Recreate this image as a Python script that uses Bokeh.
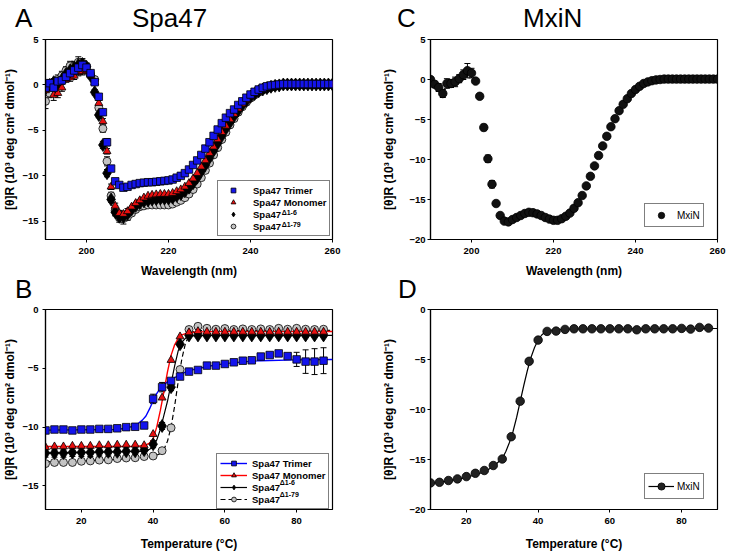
from bokeh.plotting import figure
from bokeh.models import (Range1d, FixedTicker, Label, Legend, LegendItem,
                          Whisker, TeeHead, ColumnDataSource, Div)
from bokeh.layouts import column, row
from bokeh.core.properties import value
from bokeh.embed import file_html
from bokeh.resources import INLINE

FONT = "Liberation Sans"

# ---------------- Panel A : Spa47 far-UV CD ----------------
wavelength = list(range(190, 261))
a_trimer = [-0.3, 0.2, -0.3, 0.4, 0.5, 0.9, 1.3, 1.6, 1.9, 2.2, 1.9, 1.3, 0.3, -1.3, -3.0,
            -6.3, -9.2, -10.6, -11.0, -11.3, -11.2, -11.0, -10.9, -10.8, -10.75, -10.7, -10.7,
            -10.65, -10.6, -10.55, -10.5, -10.4, -10.2, -10.0, -9.7, -9.3, -8.8, -8.3, -7.7,
            -7.0, -6.3, -5.6, -4.9, -4.2, -3.6, -3.1, -2.7, -2.2, -1.8, -1.4, -1.05, -0.75,
            -0.5, -0.3, -0.15, -0.05, 0.0, 0.05, 0.1, 0.1, 0.1, 0.1, 0.1, 0.1, 0.1, 0.1, 0.1,
            0.1, 0.1, 0.1, 0.1]
a_monomer = [-0.6, -0.2, -1.1, -0.9, -0.3, 0.6, 0.8, 1.0, 1.4, 1.5, 1.6, 1.1, 0.3, -2.0, -4.0,
             -7.3, -11.2, -13.3, -14.1, -14.2, -13.9, -13.4, -13.0, -12.7, -12.4, -12.2, -12.1,
             -12.05, -12.0, -12.0, -12.0, -11.9, -11.7, -11.5, -11.2, -10.8, -10.3, -9.7, -9.0,
             -8.3, -7.5, -6.8, -6.0, -5.2, -4.5, -3.8, -3.2, -2.6, -2.1, -1.65, -1.25, -0.9,
             -0.65, -0.45, -0.3, -0.2, -0.1, -0.05, 0.0, 0.0, 0.0, 0.0, 0.0, 0.0, 0.0, 0.0, 0.0,
             0.0, 0.0, 0.0, 0.0]
a_d16 = [-0.4, 0.0, 0.3, 0.1, 0.6, 1.2, 1.6, 1.9, 2.2, 2.3, 2.0, 1.0, -0.8, -3.3, -6.6,
         -9.7, -12.6, -14.0, -14.5, -14.5, -14.2, -13.7, -13.3, -13.0, -12.8, -12.7, -12.6,
         -12.55, -12.5, -12.5, -12.5, -12.4, -12.2, -12.0, -11.7, -11.3, -10.8, -10.2, -9.5,
         -8.8, -8.0, -7.2, -6.4, -5.6, -4.8, -4.1, -3.4, -2.8, -2.2, -1.75, -1.3, -1.0,
         -0.7, -0.5, -0.35, -0.2, -0.1, -0.05, 0.05, 0.05, 0.05, 0.05, 0.05, 0.05, 0.05, 0.05,
         0.05, 0.05, 0.05, 0.05, 0.05]
a_d179 = [-1.8, -0.9, -0.3, 0.6, 1.0, 1.6, 2.1, 2.1, 2.5, 2.4, 2.0, 1.2, 0.6, -2.5, -4.8,
          -8.4, -12.2, -13.8, -14.6, -14.7, -14.5, -14.1, -13.7, -13.4, -13.3, -13.2, -13.2,
          -13.2, -13.2, -13.2, -13.2, -13.1, -12.9, -12.7, -12.4, -12.0, -11.5, -10.9, -10.2,
          -9.4, -8.6, -7.7, -6.9, -6.0, -5.2, -4.4, -3.7, -3.0, -2.4, -1.9, -1.45, -1.1,
          -0.8, -0.55, -0.4, -0.25, -0.15, -0.05, 0.05, 0.05, 0.05, 0.05, 0.05, 0.05, 0.05,
          0.05, 0.05, 0.05, 0.05, 0.05, 0.05]
# error bars, 190-210 nm (beyond that they are hidden by the symbols)
a_trimer_err = [0.6, 0.4, 0.5, 0.4, 0.4, 0.3, 0.4, 0.4, 0.5, 0.5, 0.4, 0.3, 0.3, 0.3, 0.3,
                0.4, 0.3, 0.2, 0.2, 0.2, 0.2]
a_monomer_err = [0.5, 0.4, 0.6, 0.5, 0.4, 0.3, 0.4, 0.4, 0.4, 0.4, 0.4, 0.3, 0.3, 0.3, 0.3,
                 0.3, 0.3, 0.3, 0.3, 0.3, 0.3]
a_d16_err = [0.4, 0.3, 0.4, 0.3, 0.3, 0.3, 0.3, 0.4, 0.4, 0.4, 0.4, 0.3, 0.3, 0.3, 0.4,
             0.4, 0.3, 0.4, 0.4, 0.4, 0.3]
a_d179_err = [0.8, 0.5, 0.6, 0.5, 0.5, 0.4, 0.5, 0.5, 0.6, 0.5, 0.4, 0.3, 0.3, 0.3, 0.4,
              0.5, 0.4, 0.5, 0.5, 0.6, 0.4]

# ---------------- Panel C : MxiN far-UV CD ----------------
c_mxin = [0.0, -0.6, -1.0, -1.75, -0.5, -0.5, -0.3, 0.1, 0.6, 1.1, 0.8, -0.2, -2.1, -6.0, -9.9,
          -13.1, -15.5, -17.0, -17.7, -17.8, -17.5, -17.25, -17.0, -16.75, -16.6, -16.65, -16.8,
          -17.0, -17.25, -17.45, -17.6, -17.6, -17.4, -17.1, -16.7, -16.1, -15.4, -14.5, -13.3,
          -12.1, -10.8, -9.5, -8.3, -7.1, -5.9, -4.9, -3.9, -3.1, -2.4, -1.75, -1.25, -0.85,
          -0.5, -0.3, -0.15, -0.05, 0.0, 0.05, 0.05, 0.05, 0.05, 0.05, 0.05, 0.05, 0.05, 0.05,
          0.05, 0.05, 0.05, 0.05, 0.05]
c_mxin_err = [0.3, 0.4, 0.5, 0.5, 0.6, 0.5, 0.6, 0.5, 0.6, 0.9, 0.6, 0.2, 0.2, 0.4, 0.45,
              0.45, 0.2]

# ---------------- Panel B : Spa47 thermal melts ----------------
temperature = [10, 12.5, 15, 17.5, 20, 22.5, 25, 27.5, 30, 32.5, 35, 37.5, 40, 42.5, 45, 47.5,
               50, 52.5, 55, 57.5, 60, 62.5, 65, 67.5, 70, 72.5, 75, 77.5, 80, 82.5, 85, 87.5]
b_trimer = [-10.28, -10.2, -10.2, -10.28, -10.2, -10.2, -10.15, -10.15, -10.1, -10.0, -9.97,
            -9.86, -7.6, -6.6, -6.07, -5.7, -5.28, -5.14, -4.77, -4.77, -4.63, -4.49, -4.35,
            -4.32, -4.0, -3.87, -3.73, -3.96, -4.24, -4.43, -4.43, -4.35]
b_trimer_err = [0.1, 0.1, 0.1, 0.1, 0.1, 0.1, 0.1, 0.1, 0.1, 0.1, 0.1, 0.1, 0.4, 0.4, 0.2, 0.2,
                0.1, 0.1, 0.1, 0.1, 0.1, 0.1, 0.1, 0.1, 0.1, 0.1, 0.2, 0.2, 0.6, 1.0, 1.1, 1.1]
b_monomer = [-11.7, -11.65, -11.65, -11.6, -11.6, -11.6, -11.55, -11.55, -11.5, -11.5, -11.5,
             -11.55, -10.6, -7.5, -4.3, -2.3, -1.95, -1.85, -1.9, -1.9, -1.9, -1.9, -1.9, -1.9,
             -1.9, -1.9, -1.9, -1.9, -1.9, -1.9, -1.9, -1.9]
b_d16 = [-12.2, -12.2, -12.2, -12.15, -12.15, -12.15, -12.1, -12.1, -12.1, -12.05, -12.05,
         -11.95, -11.45, -9.9, -6.6, -2.95, -2.2, -2.2, -2.2, -2.2, -2.2, -2.2, -2.2, -2.2,
         -2.2, -2.2, -2.2, -2.2, -2.2, -2.2, -2.2, -2.2]
b_d16_err = [0.35, 0.35, 0.35, 0.35, 0.35, 0.35, 0.35, 0.35, 0.35, 0.35, 0.35, 0.35, 0.3, 0.3,
             0.3, 0.2, 0.1, 0.1, 0.1, 0.1, 0.1, 0.1, 0.1, 0.1, 0.1, 0.1, 0.1, 0.1, 0.1, 0.1,
             0.1, 0.1]
b_d179 = [-13.1, -13.0, -13.0, -13.0, -12.9, -12.87, -12.8, -12.78, -12.67, -12.62, -12.6,
          -12.5, -12.45, -12.0, -10.06, -5.1, -1.7, -1.43, -1.6, -1.68, -1.62, -1.7, -1.65,
          -1.7, -1.65, -1.7, -1.6, -1.68, -1.6, -1.68, -1.7, -1.68]
# fitted curves
b_trimer_fit_t = [10, 30, 33, 35, 36, 37, 38, 39, 40, 41, 42, 43, 44, 45, 46, 47, 48, 50, 55,
                  60, 65, 70, 80, 90]
b_trimer_fit = [-10.25, -10.2, -10.05, -9.85, -9.65, -9.4, -9.05, -8.45, -7.75, -7.15, -6.7,
                -6.4, -6.15, -5.95, -5.8, -5.6, -5.45, -5.2, -4.85, -4.6, -4.45, -4.35, -4.28,
                -4.25]
b_monomer_fit_t = [10, 36, 38, 39, 40, 41, 42, 43, 44, 45, 46, 47, 48, 50, 55, 90]
b_monomer_fit = [-11.65, -11.62, -11.5, -11.35, -11.0, -10.0, -8.6, -7.0, -5.3, -3.9, -3.0,
                 -2.45, -2.15, -1.95, -1.88, -1.87]
b_d16_fit_t = [10, 38, 40, 41, 42, 43, 44, 45, 46, 47, 48, 49, 50, 55, 90]
b_d16_fit = [-12.2, -12.05, -11.7, -11.1, -10.2, -9.0, -7.8, -6.3, -4.8, -3.5, -2.8, -2.45,
             -2.25, -2.2, -2.2]
b_d179_fit_t = [10, 30, 40, 42, 43, 44, 45, 46, 47, 48, 49, 50, 51, 53, 90]
b_d179_fit = [-12.95, -12.75, -12.5, -12.25, -11.9, -11.2, -10.0, -8.2, -6.1, -4.2, -2.9,
              -2.2, -1.9, -1.8, -1.77]

# ---------------- Panel D : MxiN thermal melt ----------------
d_mxin = [-17.34, -17.28, -17.1, -16.94, -16.71, -16.38, -16.1, -15.6, -14.95, -12.72, -9.17,
          -5.18, -3.06, -2.19, -2.16, -1.99, -1.93, -1.93, -1.93, -1.93, -1.93, -1.93, -1.93,
          -2.03, -1.93, -1.93, -1.93, -1.93, -1.89, -1.96, -1.79, -1.86]
d_mxin_fit_t = [10, 15, 20, 25, 27.5, 30, 31, 32, 33, 34, 35, 36, 37, 38, 39, 40, 41, 42, 43,
                45, 50, 90]
d_mxin_fit = [-17.4, -17.15, -16.8, -16.25, -15.7, -14.9, -14.2, -13.3, -12.2, -10.8, -9.2,
              -7.6, -6.1, -4.8, -3.8, -3.05, -2.55, -2.25, -2.1, -2.0, -1.95, -1.9]

wl_ticks = [200, 220, 240, 260]
t_ticks = [20, 40, 60, 80]
Y_LABEL = "[θ]R (10³ deg cm² dmol⁻¹)"

BLUE = "#1414ec"
RED = "#e81010"
GREY = "#c4c4c4"
BLACK = "#000000"


def make_fig(width, height, xr, yr, xticks, yticks, xlabel, left, right, top, bottom,
             ylab_standoff, ytick_standoff, xlab_standoff):
    p = figure(width=width, height=height, x_range=Range1d(*xr), y_range=Range1d(*yr),
               output_backend="svg", toolbar_location=None,
               min_border_left=left, min_border_right=right,
               min_border_top=top, min_border_bottom=bottom)
    p.xgrid.visible = False
    p.ygrid.visible = False
    p.outline_line_color = "black"
    p.outline_line_width = 1.2
    p.background_fill_color = "white"
    p.border_fill_color = "white"
    for ax in (p.xaxis[0], p.yaxis[0]):
        ax.axis_line_color = "black"
        ax.axis_line_width = 1.2
        ax.major_tick_line_color = "black"
        ax.major_tick_in = 0
        ax.major_tick_out = 3
        ax.minor_tick_line_color = None
        ax.major_label_text_font = FONT
        ax.major_label_text_font_style = "bold"
        ax.major_label_text_font_size = "9.5px"
        ax.major_label_text_color = "black"
        ax.axis_label_text_font = FONT
        ax.axis_label_text_font_style = "bold"
        ax.axis_label_text_font_size = "12px"
        ax.axis_label_text_color = "black"
    p.xaxis[0].ticker = FixedTicker(ticks=xticks)
    p.yaxis[0].ticker = FixedTicker(ticks=yticks)
    p.xaxis[0].axis_label = xlabel
    p.yaxis[0].axis_label = Y_LABEL
    p.xaxis[0].major_label_standoff = 5
    p.xaxis[0].axis_label_standoff = xlab_standoff
    p.yaxis[0].major_label_standoff = ytick_standoff
    p.yaxis[0].axis_label_standoff = ylab_standoff
    return p


def add_sup(p, x, y, text):
    # superscript part of a legend label, placed in data units
    p.add_layout(Label(x=x, y=y, text=text, text_font=FONT, text_font_size="7px",
                       text_font_style="bold", text_color="black", text_align="left",
                       text_baseline="middle"))


def add_err(p, xs, ys, errs):
    n = len(errs)
    src = ColumnDataSource(dict(x=xs[:n],
                                upper=[y + e for y, e in zip(ys[:n], errs)],
                                lower=[y - e for y, e in zip(ys[:n], errs)]))
    p.add_layout(Whisker(source=src, base="x", upper="upper", lower="lower",
                         level="underlay", line_color="black", line_width=1,
                         upper_head=TeeHead(size=6, line_color="black", line_width=1),
                         lower_head=TeeHead(size=6, line_color="black", line_width=1)))


def make_legend(items, loc, glyph_w, glyph_h, standoff, bold=True, size="9.5px"):
    # transparent box: nothing of the data lies under the legends
    return Legend(items=[LegendItem(label=value(lbl), renderers=rs) for lbl, rs in items],
                  location=loc, orientation="vertical", padding=3, spacing=0, margin=0,
                  glyph_width=glyph_w, glyph_height=glyph_h, label_height=glyph_h,
                  label_standoff=standoff, border_line_color="black", border_line_width=1,
                  background_fill_alpha=0.0,
                  label_text_font=FONT, label_text_font_size=size,
                  label_text_font_style="bold" if bold else "normal",
                  label_text_color="black")


def heading(width, height, line_h, parts):
    spans = "".join(
        f'<span style="position:absolute;left:{x}px;top:0px;white-space:nowrap;">{t}</span>'
        for x, t in parts)
    html = (f'<div style="position:relative;width:{width}px;height:{height}px;'
            f"font-family:'{FONT}';font-size:26px;line-height:{line_h}px;color:#000;"
            f'overflow:visible;">{spans}</div>')
    return Div(text=html, width=width, height=height, margin=0,
               styles={"overflow": "visible"})


W1, W2 = 379, 350

# ---------------- build A ----------------
pa = make_fig(W1, 248, (190, 260), (-17, 5), wl_ticks, [-15, -10, -5, 0, 5],
              "Wavelength (nm)", 45, 47, 6, 42, 2, 4, 7)
add_err(pa, wavelength, a_trimer, a_trimer_err)
add_err(pa, wavelength, a_monomer, a_monomer_err)
add_err(pa, wavelength, a_d16, a_d16_err)
add_err(pa, wavelength, a_d179, a_d179_err)
r_a79 = pa.scatter(wavelength, a_d179, marker="circle", size=8, fill_color=GREY,
                   line_color="black", line_width=0.8)
r_a16 = pa.scatter(wavelength, a_d16, marker="diamond", size=13, fill_color=BLACK,
                   line_color="black", line_width=0.8)
r_amo = pa.scatter(wavelength, a_monomer, marker="triangle", size=8, fill_color=RED,
                   line_color="black", line_width=0.8)
r_atr = pa.scatter(wavelength, a_trimer, marker="square", size=7.5, fill_color=BLUE,
                   line_color="black", line_width=0.8)
pa.add_layout(make_legend([("Spa47 Trimer", [r_atr]), ("Spa47 Monomer", [r_amo]),
                           ("Spa47", [r_a16]), ("Spa47", [r_a79])],
                          (172, 3), 24, 12, 8))
add_sup(pa, 247.6, -14.0, "Δ1-6")
add_sup(pa, 247.6, -15.3, "Δ1-79")

# ---------------- build C ----------------
pc = make_fig(W2, 248, (190, 260), (-20, 5), wl_ticks, [-20, -15, -10, -5, 0, 5],
              "Wavelength (nm)", 50, 12, 6, 42, 10, 2, 7)
add_err(pc, wavelength, c_mxin, c_mxin_err)
r_c = pc.scatter(wavelength, c_mxin, marker="circle", size=8.5, fill_color="#111111",
                 line_color="black", line_width=0.8)
pc.add_layout(make_legend([("MxiN", [r_c])], (214, 12), 26, 16, 3, bold=False, size="10px"))

# ---------------- build B ----------------
pb = make_fig(W1, 250, (10, 90), (-17, 0), t_ticks, [-15, -10, -5, 0],
              "Temperature (°C)", 45, 47, 5, 45, 2, 4, 10)
add_err(pb, temperature, b_trimer, b_trimer_err)
add_err(pb, temperature, b_d16, b_d16_err)
l_b79 = pb.line(b_d179_fit_t, b_d179_fit, line_color="black", line_width=1.2,
                line_dash="5 3")
l_b16 = pb.line(b_d16_fit_t, b_d16_fit, line_color="black", line_width=1.2)
l_bmo = pb.line(b_monomer_fit_t, b_monomer_fit, line_color="#ff0000", line_width=1.4)
l_btr = pb.line(b_trimer_fit_t, b_trimer_fit, line_color="#0000ff", line_width=1.4)
r_b79 = pb.scatter(temperature, b_d179, marker="circle", size=8, fill_color=GREY,
                   line_color="black", line_width=0.8)
r_b16 = pb.scatter(temperature, b_d16, marker="diamond", size=13, fill_color=BLACK,
                   line_color="black", line_width=0.8)
r_bmo = pb.scatter(temperature, b_monomer, marker="triangle", size=8, fill_color=RED,
                   line_color="black", line_width=0.8)
r_btr = pb.scatter(temperature, b_trimer, marker="square", size=7.5, fill_color=BLUE,
                   line_color="black", line_width=0.8)
pb.add_layout(make_legend([("Spa47 Trimer", [l_btr, r_btr]),
                           ("Spa47 Monomer", [l_bmo, r_bmo]),
                           ("Spa47", [l_b16, r_b16]), ("Spa47", [l_b79, r_b79])],
                          (171, 0), 27, 12, 5))
add_sup(pb, 75.3, -14.7, "Δ1-6")
add_sup(pb, 75.3, -15.72, "Δ1-79")

# ---------------- build D ----------------
pd_ = make_fig(W2, 250, (10, 90), (-20, 0), t_ticks, [-20, -15, -10, -5, 0],
               "Temperature (°C)", 50, 12, 5, 45, 10, 2, 10)
l_d = pd_.line(d_mxin_fit_t, d_mxin_fit, line_color="black", line_width=1.2)
r_d = pd_.scatter(temperature, d_mxin, marker="circle", size=8.5, fill_color="#222222",
                  line_color="black", line_width=0.8)
pd_.add_layout(make_legend([("MxiN", [l_d, r_d])], (214, 10), 26, 18, 3, bold=False,
                           size="10px"))

# ---------------- panel letters and titles ----------------
h_a = heading(W1, 33, 36, [(15, "A"), (132, "Spa47")])
h_c = heading(W2, 33, 36, [(18, "C"), (144, "MxiN")])
h_b = heading(W1, 23, 16, [(15, "B")])
h_d = heading(W2, 23, 16, [(19, "D")])

layout = column(row(h_a, h_c), row(pa, pc), row(h_b, h_d), row(pb, pd_))

open("out.html", "w").write(file_html(layout, INLINE))
